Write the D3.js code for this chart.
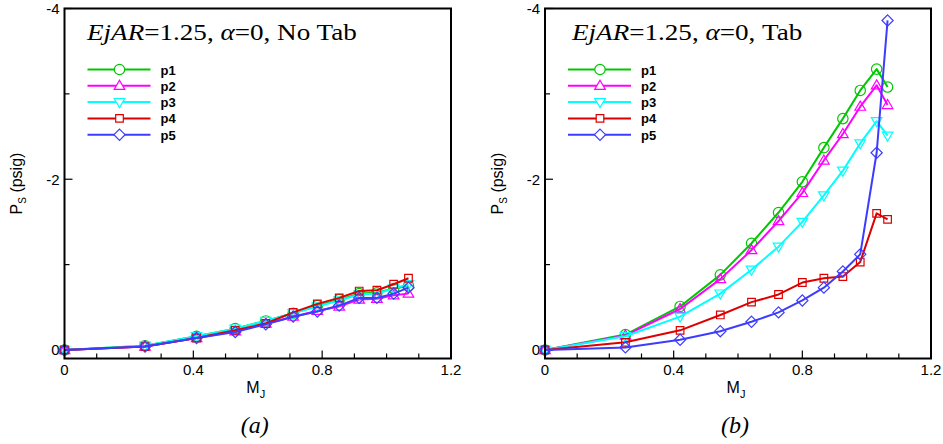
<!DOCTYPE html>
<html>
<head>
<meta charset="utf-8">
<script src="https://cdn.jsdelivr.net/npm/d3@7/dist/d3.min.js"></script>
<style>
  html, body { margin: 0; padding: 0; background: #fff; }
  svg { display: block; }
  .tick-label { font-family: "Liberation Sans", Arial, sans-serif; font-size: 15px; fill: #000; }
  .axis-title { font-family: "Liberation Sans", Arial, sans-serif; font-size: 16px; fill: #000; }
  .legend-label { font-family: "Liberation Sans", Arial, sans-serif; font-size: 13px; font-weight: bold; fill: #000; }
  .panel-title { font-family: "Liberation Serif", "Times New Roman", serif; font-size: 24px; fill: #000; }
  .caption { font-family: "Liberation Serif", "Times New Roman", serif; font-size: 24px; font-style: italic; fill: #000; }
</style>
</head>
<body>
<svg id="chart" width="943" height="444"></svg>
<script>
// Jet Mach number at each test point
const machNoTab = [0, 0.25, 0.41, 0.53, 0.625, 0.71, 0.785, 0.853, 0.915, 0.97, 1.022, 1.068];
const machTab   = [0, 0.25, 0.42, 0.545, 0.642, 0.726, 0.80, 0.867, 0.926, 0.98, 1.031, 1.065];

// Static pressure (psig), no tab
const p1NoTab = [0, -0.05, -0.16, -0.25, -0.34, -0.43, -0.52, -0.59, -0.66, -0.67, -0.72, -0.75];
const p2NoTab = [0, -0.04, -0.14, -0.22, -0.31, -0.39, -0.46, -0.51, -0.59, -0.60, -0.64, -0.66];
const p3NoTab = [0, -0.05, -0.16, -0.25, -0.34, -0.43, -0.51, -0.58, -0.65, -0.66, -0.72, -0.77];
const p4NoTab = [0, -0.04, -0.14, -0.23, -0.31, -0.44, -0.54, -0.61, -0.69, -0.70, -0.77, -0.84];
const p5NoTab = [0, -0.04, -0.14, -0.21, -0.30, -0.39, -0.45, -0.52, -0.61, -0.61, -0.66, -0.73];

// Static pressure (psig), with tab
const p1Tab = [0, -0.18, -0.51, -0.88, -1.25, -1.61, -1.97, -2.37, -2.71, -3.04, -3.29, -3.08];
const p2Tab = [0, -0.17, -0.48, -0.83, -1.17, -1.51, -1.84, -2.22, -2.53, -2.85, -3.10, -2.87];
const p3Tab = [0, -0.16, -0.39, -0.66, -0.94, -1.21, -1.50, -1.81, -2.10, -2.42, -2.68, -2.51];
const p4Tab = [0, -0.09, -0.23, -0.41, -0.56, -0.65, -0.79, -0.84, -0.86, -1.03, -1.60, -1.53];
const p5Tab = [0, -0.03, -0.12, -0.22, -0.33, -0.44, -0.58, -0.73, -0.92, -1.12, -2.31, -3.86];

const seriesNames = ["p1", "p2", "p3", "p4", "p5"];
const xTicks = [0, 0.4, 0.8, 1.2];
const xMinorTicks = [0.1, 0.2, 0.3, 0.5, 0.6, 0.7, 0.9, 1.0, 1.1];
const yTicks = [-4, -2, 0];
const yMinorTicks = [-3, -1];

const colors = ["#00c800", "#ff00ff", "#00ffff", "#dd0000", "#3c3cff"];
const symbols = ["circle", "triUp", "triDown", "square", "diamond"];

const svg = d3.select("#chart");

function markerPath(kind, cx, cy) {
  const p = d3.path();
  if (kind === "circle") {
    p.moveTo(cx + 5.2, cy); p.arc(cx, cy, 5.2, 0, 2 * Math.PI);
  } else if (kind === "triUp") {
    p.moveTo(cx, cy - 5.5); p.lineTo(cx + 5.3, cy + 3.6); p.lineTo(cx - 5.3, cy + 3.6); p.closePath();
  } else if (kind === "triDown") {
    p.moveTo(cx, cy + 5.5); p.lineTo(cx + 5.3, cy - 3.6); p.lineTo(cx - 5.3, cy - 3.6); p.closePath();
  } else if (kind === "square") {
    p.rect(cx - 3.8, cy - 3.8, 7.6, 7.6);
  } else {
    p.moveTo(cx, cy - 5.6); p.lineTo(cx + 5.6, cy); p.lineTo(cx, cy + 5.6); p.lineTo(cx - 5.6, cy); p.closePath();
  }
  return p.toString();
}

// the serif title face is set a little wider than the installed serif
const titleStretch = 1.13;

function drawPanel(opts) {
  const { left, right, top, bottom, mach, series, titleParts, titleX, caption } = opts;
  const x = d3.scaleLinear().domain([0, 1.2]).range([left, right]);
  const y = d3.scaleLinear().domain([-4, 0.1]).range([top, bottom]);
  const g = svg.append("g");

  // inward tick marks
  const tg = g.append("g").attr("stroke", "#000").attr("stroke-width", 1.2);
  xTicks.forEach(t => tg.append("line").attr("x1", x(t)).attr("x2", x(t)).attr("y1", bottom).attr("y2", bottom - 8));
  xMinorTicks.forEach(t => tg.append("line").attr("x1", x(t)).attr("x2", x(t)).attr("y1", bottom).attr("y2", bottom - 5));
  yTicks.forEach(t => tg.append("line").attr("x1", left).attr("x2", left + 8).attr("y1", y(t)).attr("y2", y(t)));
  yMinorTicks.forEach(t => tg.append("line").attr("x1", left).attr("x2", left + 5).attr("y1", y(t)).attr("y2", y(t)));

  // tick labels
  xTicks.forEach(t => g.append("text").attr("class", "tick-label")
    .attr("x", x(t)).attr("y", bottom + 16).attr("text-anchor", "middle").text(d3.format("")(t)));
  yTicks.forEach(t => g.append("text").attr("class", "tick-label")
    .attr("x", left - 5).attr("y", y(t) + 5.5).attr("text-anchor", "end").text(String(t)));

  // data lines and markers
  const line = d3.line().x((d, i) => x(mach[i])).y(d => y(d));
  series.forEach((vals, k) => {
    g.append("path").attr("d", line(vals)).attr("fill", "none")
      .attr("stroke", colors[k]).attr("stroke-width", 2).attr("stroke-linejoin", "round");
    vals.forEach((v, i) => g.append("path").attr("d", markerPath(symbols[k], x(mach[i]), y(v)))
      .attr("fill", "none").attr("stroke", colors[k]).attr("stroke-width", 1.2));
  });

  // frame
  g.append("rect").attr("x", left).attr("y", top).attr("width", right - left).attr("height", bottom - top)
    .attr("fill", "none").attr("stroke", "#000").attr("stroke-width", 2);

  // title
  const tt = g.append("text").attr("class", "panel-title").attr("x", 0).attr("y", top + 32)
    .attr("transform", `translate(${titleX},0) scale(${titleStretch},1)`);
  titleParts.forEach(([s, it]) => tt.append("tspan").attr("font-style", it ? "italic" : "normal").text(s));

  // legend
  seriesNames.forEach((name, k) => {
    const ly = top + 61 + k * 16.3;
    g.append("line").attr("x1", left + 23).attr("x2", left + 86).attr("y1", ly).attr("y2", ly)
      .attr("stroke", colors[k]).attr("stroke-width", 2);
    g.append("path").attr("d", markerPath(symbols[k], left + 55, ly))
      .attr("fill", "#fff").attr("stroke", colors[k]).attr("stroke-width", 1.2);
    g.append("text").attr("class", "legend-label").attr("x", left + 96).attr("y", ly + 5).text(name);
  });

  // axis titles
  const xt = g.append("text").attr("class", "axis-title").attr("x", (left + right) / 2 - 2).attr("y", bottom + 34)
    .attr("text-anchor", "middle").attr("font-size", "17px");
  xt.append("tspan").text("M");
  xt.append("tspan").attr("font-size", "11px").attr("dy", 5).text("J");

  const yt = g.append("text").attr("class", "axis-title")
    .attr("transform", `translate(${left - 42.5},${(top + bottom) / 2}) rotate(-90)`)
    .attr("text-anchor", "middle");
  yt.append("tspan").text("P");
  yt.append("tspan").attr("font-size", "10px").attr("dy", 4).text("S");
  yt.append("tspan").attr("dy", -4).text(" (psig)");

  g.append("text").attr("class", "caption").attr("x", (left + right) / 2 - 3).attr("y", bottom + 74)
    .attr("text-anchor", "middle").text(caption);
}

drawPanel({
  left: 64.5, right: 451, top: 8.5, bottom: 358.5,
  mach: machNoTab,
  series: [p1NoTab, p2NoTab, p3NoTab, p4NoTab, p5NoTab],
  titleParts: [["EjAR", true], ["=1.25, ", false], ["α", true], ["=0, No Tab", false]],
  titleX: 87,
  caption: "(a)"
});

drawPanel({
  left: 545, right: 931, top: 8.5, bottom: 358.5,
  mach: machTab,
  series: [p1Tab, p2Tab, p3Tab, p4Tab, p5Tab],
  titleParts: [["EjAR", true], ["=1.25, ", false], ["α", true], ["=0, Tab", false]],
  titleX: 572,
  caption: "(b)"
});
</script>
</body>
</html>
